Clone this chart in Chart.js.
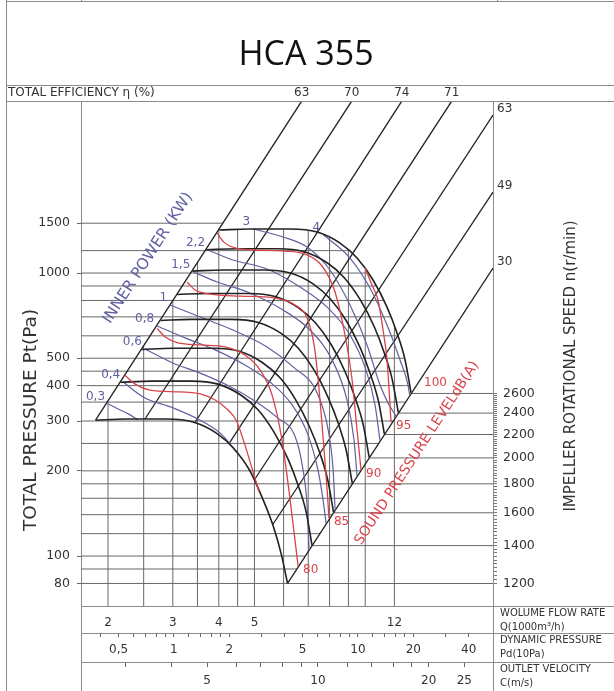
<!DOCTYPE html>
<html>
<head>
<meta charset="utf-8">
<title>HCA 355</title>
<script src="https://cdn.jsdelivr.net/npm/chart.js@4.4.1/dist/chart.umd.min.js"></script>
<style>
  html, body { margin: 0; padding: 0; background: #fff; }
  canvas { display: block; }
</style>
</head>
<body>
<canvas id="fanChart" width="614" height="691"></canvas>
<script>
// HCA 355 fan sheet - flow Q in 1000 m3/h, total pressure Pt in Pa

var pressureTicks = [80, 100, 200, 300, 400, 500, 1000, 1500];
var pressureGrid = [80, 90, 100, 120, 140, 160, 180, 200, 250, 300, 350, 400, 450, 500, 600, 700, 800, 900, 1000, 1200, 1500];
var flowGrid = [2, 2.5, 3, 3.5, 4, 4.5, 5, 6, 7, 8, 9, 10, 12];
var flowLabels = [2, 3, 4, 5, 12];
var dynTicks = [0.4, 0.5, 0.6, 0.7, 0.8, 0.9, 1, 1.2, 1.4, 1.6, 1.8, 2, 3, 4, 5, 6, 7, 8, 9, 10, 12, 14, 16, 18, 20, 30, 40];
var dynLabels = [0.5, 1, 2, 5, 10, 20, 40];
var velTicks = [3, 4, 5, 6, 7, 8, 9, 10, 12, 14, 16, 18, 20, 25];
var velLabels = [5, 10, 20, 25];
var rpmLabels = [1200, 1400, 1600, 1800, 2000, 2200, 2400, 2600];

// axis ranges (the three bottom scales line up with the flow scale)
var flowRange = [1.689, 22.24];
var pressureRange = [66.6, 4054];
var rpmRange = [1095, 8545];
var dynRange = [0.3126, 54.2];
var velRange = [2.2715, 29.91];

// fan curves, one per impeller speed
var speeds = [1200, 1400, 1600, 1800, 2000, 2200, 2400, 2600];
var fanQ = [
  [1.85, 2.24, 2.88, 3.42, 3.94, 4.38, 4.85, 5.29, 5.63, 5.92, 6.15],
  [2.16, 2.62, 3.37, 3.98, 4.60, 5.12, 5.65, 6.17, 6.57, 6.91, 7.17],
  [2.47, 2.99, 3.85, 4.55, 5.25, 5.85, 6.46, 7.05, 7.51, 7.90, 8.20],
  [2.78, 3.36, 4.33, 5.12, 5.91, 6.58, 7.27, 7.93, 8.45, 8.88, 9.22],
  [3.08, 3.74, 4.81, 5.69, 6.57, 7.31, 8.08, 8.81, 9.38, 9.87, 10.25],
  [3.39, 4.11, 5.29, 6.26, 7.23, 8.04, 8.89, 9.70, 10.32, 10.86, 11.27],
  [3.70, 4.49, 5.77, 6.83, 7.88, 8.77, 9.69, 10.58, 11.26, 11.84, 12.30],
  [4.01, 4.86, 6.25, 7.40, 8.54, 9.50, 10.50, 11.46, 12.20, 12.83, 13.32]
];
var fanP = [
  [302, 305, 305, 297, 272, 241, 201, 157, 127, 101, 80],
  [411, 415, 415, 405, 370, 328, 274, 220, 178, 143, 109],
  [537, 542, 542, 529, 483, 428, 358, 287, 233, 187, 143],
  [680, 686, 686, 669, 612, 542, 453, 363, 294, 236, 181],
  [840, 847, 847, 826, 755, 669, 559, 449, 363, 292, 223],
  [1016, 1025, 1025, 1000, 914, 809, 677, 543, 440, 353, 270],
  [1209, 1219, 1219, 1190, 1087, 963, 805, 646, 523, 420, 321],
  [1419, 1431, 1431, 1396, 1276, 1130, 945, 758, 614, 493, 377]
];

// inner power (kW)
var powerNames = ['0,3', '0,4', '0,6', '0,8', '1', '1,5', '2,2', '3', '4'];
var powerQ = [
  [2.00, 2.13, 2.27, 2.41],
  [2.20, 2.49, 3.00, 3.56, 4.03, 4.48],
  [2.52, 3.00, 3.56, 4.21, 4.96, 5.76, 6.45, 6.74, 6.95, 7.04],
  [2.72, 3.24, 3.91, 4.71, 5.51, 6.33, 6.99, 7.44, 7.68, 7.83],
  [2.95, 3.56, 4.37, 5.41, 6.37, 7.40, 7.93, 8.18, 8.28],
  [3.41, 3.96, 4.86, 5.98, 7.08, 8.13, 8.92, 9.32, 9.50],
  [3.74, 4.37, 5.41, 6.65, 7.93, 9.09, 10.05, 10.63, 10.97],
  [4.96, 5.98, 6.95, 8.02, 9.09, 10.11, 10.97, 11.54, 12.13],
  [7.68, 9.09, 10.30, 11.46, 12.43, 13.07, 13.20]
];
var powerP = [
  [345, 331, 318, 303],
  [412, 365, 334, 302, 272, 233],
  [539, 481, 443, 402, 356, 309, 264, 210, 151, 105],
  [650, 590, 535, 473, 412, 342, 268, 201, 158, 130],
  [771, 699, 629, 548, 466, 377, 279, 201, 146],
  [1009, 930, 850, 740, 629, 493, 356, 257, 192],
  [1206, 1112, 1033, 892, 752, 604, 454, 342, 255],
  [1431, 1341, 1235, 1025, 771, 557, 402, 347, 312],
  [1368, 1130, 885, 655, 493, 402, 371]
];

// sound pressure level dB(A); the lowest curve carries no number
var soundNames = ['', '80', '85', '90', '95'];
var soundTop = '100';
var soundQ = [
  [2.22, 2.37, 2.60, 3.14, 3.56, 3.91, 4.24, 4.46, 4.71, 4.93, 5.15],
  [2.72, 2.86, 3.10, 3.56, 4.16, 4.71, 5.18, 5.58, 5.94, 6.25, 6.57],
  [3.28, 3.45, 3.79, 4.57, 5.69, 6.45, 6.95, 7.26, 7.45, 7.69, 7.88, 7.97],
  [3.96, 4.13, 4.43, 5.02, 6.06, 6.86, 7.63, 8.28, 8.81, 9.21, 9.50, 9.74],
  [9.99, 10.43, 10.83, 11.18, 11.46, 11.61, 11.75]
];
var soundP = [
  [436, 405, 386, 380, 374, 356, 328, 302, 247, 203, 168],
  [637, 594, 566, 557, 548, 513, 454, 371, 257, 158, 92],
  [930, 871, 843, 829, 816, 771, 693, 557, 419, 257, 171, 136],
  [1384, 1286, 1226, 1206, 1196, 1167, 1059, 857, 604, 419, 279, 201],
  [1041, 907, 803, 629, 493, 386, 297]
];

// total efficiency lines (%)
var effNames = ['63', '70', '74', '71', '63', '49', '30'];
var effQ = [[1.85, 6.72], [2.52, 9.19], [3.45, 12.57], [4.26, 17.18], [5.0, 22.24], [5.6, 22.24], [6.15, 22.24]];
var effP = [[302, 4053], [305, 4053], [297, 4053], [249, 4053], [186, 3616], [129, 1933], [80, 1041]];

var powerTitleAt = [2.57, 1130];
var soundTitleAt = [13.83, 231];

var font = 'DejaVu Sans';
var gridColor = '#686868';
var frameColor = '#8c8c8c';
var blue = '#5f5f9f';
var red = '#d8434a';
var ink = '#222222';

Chart.defaults.font.family = font;
Chart.defaults.color = '#333';

// straight line between two points on log-log axes
function logInterp(v, v0, v1, w0, w1) {
  var t = (Math.log(v) - Math.log(v0)) / (Math.log(v1) - Math.log(v0));
  return Math.exp(Math.log(w0) + t * (Math.log(w1) - Math.log(w0)));
}

var topQ = fanQ[fanQ.length - 1], topP = fanP[fanP.length - 1];

// where a pressure line meets the outline (left diagonal, top curve, sound line)
function rightEdge(p) {
  if (p >= Math.max.apply(null, topP)) return logInterp(p, effP[0][0], effP[0][1], effQ[0][0], effQ[0][1]);
  if (p >= topP[topP.length - 1]) {
    for (var i = topP.length - 1; i > 0; i--) {
      if (topP[i - 1] >= p && topP[i] <= p) return logInterp(p, topP[i], topP[i - 1], topQ[i], topQ[i - 1]);
    }
  }
  return logInterp(p, effP[6][0], effP[6][1], effQ[6][0], effQ[6][1]);
}

// where a flow line meets the outline from below
function topEdge(q) {
  if (q <= topQ[0]) return logInterp(q, effQ[0][0], effQ[0][1], effP[0][0], effP[0][1]);
  for (var i = 1; i < topQ.length; i++) {
    if (topQ[i] >= q) return logInterp(q, topQ[i - 1], topQ[i], topP[i - 1], topP[i]);
  }
  return logInterp(q, effQ[6][0], effQ[6][1], effP[6][0], effP[6][1]);
}

function series(qs, ps) {
  return qs.map(function (q, i) { return { x: q, y: ps[i] }; });
}

function lineSet(data, color, width, order, smooth, yAxis) {
  return {
    data: data,
    showLine: true,
    borderColor: color,
    borderWidth: width,
    pointRadius: 0,
    fill: false,
    order: order,
    tension: smooth ? 0.4 : 0,
    cubicInterpolationMode: smooth ? 'monotone' : 'default',
    yAxisID: yAxis || 'y'
  };
}

var hLines = [];
pressureGrid.forEach(function (p) {
  hLines.push({ x: flowRange[0], y: p }, { x: rightEdge(p), y: p }, { x: null, y: null });
});
var vLines = [];
flowGrid.forEach(function (q) {
  vLines.push({ x: q, y: pressureRange[0] }, { x: q, y: topEdge(q) }, { x: null, y: null });
});
var rpmLines = [];
speeds.forEach(function (n, i) {
  rpmLines.push({ x: fanQ[i][fanQ[i].length - 1], y: n }, { x: flowRange[1], y: n }, { x: null, y: null });
});

var datasets = [
  lineSet(hLines, gridColor, 1, 10, false),
  lineSet(vLines, gridColor, 1, 10, false),
  lineSet(rpmLines, gridColor, 1, 10, false, 'rpm')
];
effQ.forEach(function (qs, i) { datasets.push(lineSet(series(qs, effP[i]), ink, 1.3, 6, false)); });
powerQ.forEach(function (qs, i) { datasets.push(lineSet(series(qs, powerP[i]), blue, 1.2, 5, true)); });
fanQ.forEach(function (qs, i) { datasets.push(lineSet(series(qs, fanP[i]), ink, 1.6, 4, true)); });
soundQ.forEach(function (qs, i) { datasets.push(lineSet(series(qs, soundP[i]), red, 1.3, 3, true)); });

function fixedTicks(values) {
  return function (scale) { scale.ticks = values.map(function (v) { return { value: v }; }); };
}

var rpmTicks = [];
for (var n = 1200; n <= 2600; n += 20) rpmTicks.push(n);

function bottomAxis(range, ticks, labels, weight, height, tickLen, pad, fmt) {
  return {
    type: 'logarithmic',
    position: 'bottom',
    bounds: 'data',
    min: range[0],
    max: range[1],
    weight: weight,
    afterBuildTicks: fixedTicks(ticks),
    afterFit: function (s) { s.height = height; },
    border: { display: true, color: frameColor },
    grid: { drawOnChartArea: false, drawTicks: tickLen > 0, tickLength: tickLen, color: '#666' },
    ticks: {
      autoSkip: false, maxRotation: 0, minRotation: 0, padding: pad,
      font: { size: 12 }, color: '#333',
      callback: function (v) { return labels.indexOf(v) >= 0 ? (fmt ? fmt(v) : String(v)) : ''; }
    }
  };
}

var sheetPlugin = {
  id: 'sheet',
  beforeDraw: function (chart) {
    var c = chart.ctx;
    c.save();
    c.fillStyle = '#fff';
    c.fillRect(0, 0, chart.width, chart.height);
    c.restore();
  },
  afterDraw: function (chart) {
    var c = chart.ctx, a = chart.chartArea, W = chart.width, H = chart.height;
    var sx = chart.scales.x, sy = chart.scales.y;
    function line(x1, y1, x2, y2) { c.beginPath(); c.moveTo(x1, y1); c.lineTo(x2, y2); c.stroke(); }
    c.save();
    c.strokeStyle = frameColor;
    c.lineWidth = 1;
    line(6.5, 0, 6.5, H);
    line(6, 1.5, W, 1.5);
    line(a.left + 0.5, 0, a.left + 0.5, 2);
    line(497.5, 0, 497.5, 2);
    line(6, 85.5, W, 85.5);
    line(6, a.top + 0.5, W, a.top + 0.5);
    line(a.left + 0.5, a.bottom, a.left + 0.5, H);
    line(a.right + 0.5, a.bottom, a.right + 0.5, H);
    [a.bottom, chart.scales.pd.top, chart.scales.vel.top].forEach(function (y) {
      line(a.right, Math.round(y) + 0.5, W, Math.round(y) + 0.5);
    });

    c.fillStyle = '#111';
    c.textAlign = 'center';
    c.textBaseline = 'middle';
    c.font = '34px "Liberation Sans Narrow", "Open Sans", sans-serif';
    c.fillText('HCA 355', 306, 55);

    c.fillStyle = '#333';
    c.font = '12px "' + font + '"';
    c.textAlign = 'left';
    c.fillText('TOTAL EFFICIENCY \u03b7 (%)', 8, 93);

    // efficiency numbers: top row for lines leaving at the top, right of axis for the others
    effNames.forEach(function (name, i) {
      var q = effQ[i][1], p = effP[i][1];
      if (p >= pressureRange[1] - 1) {
        c.textAlign = 'center';
        c.fillText(name, sx.getPixelForValue(q), 93);
      } else {
        c.textAlign = 'left';
        c.fillText(name, a.right + 4, sy.getPixelForValue(p) - 6);
      }
    });

    c.font = '10px "' + font + '"';
    c.textAlign = 'left';
    var rows = [
      ['WOLUME FLOW RATE', 'Q(1000m\u00b3/h)', a.bottom],
      ['DYNAMIC PRESSURE', 'Pd(10Pa)', chart.scales.pd.top],
      ['OUTLET VELOCITY', 'C(m/s)', chart.scales.vel.top]
    ];
    rows.forEach(function (r) {
      c.fillText(r[0], a.right + 7, r[2] + 7);
      c.fillText(r[1], a.right + 7, r[2] + 21);
    });

    c.font = '18.5px "' + font + '"';
    c.textAlign = 'center';
    c.save();
    c.translate(31, 420);
    c.rotate(-Math.PI / 2);
    c.fillText('TOTAL PRESSURE Pt(Pa)', 0, 0);
    c.restore();

    c.font = '15px "' + font + '"';
    c.save();
    c.translate(571, 366);
    c.rotate(-Math.PI / 2);
    c.fillText('IMPELLER ROTATIONAL SPEED n(r/min)', 0, 0);
    c.restore();
    c.restore();
  },
  afterDatasetsDraw: function (chart) {
    var c = chart.ctx, sx = chart.scales.x, sy = chart.scales.y;
    function pt(q, p) { return [sx.getPixelForValue(q), sy.getPixelForValue(p)]; }
    c.save();
    c.font = '12px "' + font + '"';

    c.fillStyle = blue;
    c.textAlign = 'right';
    c.textBaseline = 'bottom';
    powerNames.forEach(function (name, i) {
      var s = pt(powerQ[i][0], powerP[i][0]);
      c.fillText(name, s[0] - 3, s[1] - 1);
    });

    c.fillStyle = red;
    c.textAlign = 'left';
    c.textBaseline = 'middle';
    soundNames.forEach(function (name, i) {
      if (!name) return;
      var k = soundQ[i].length - 1;
      var e = pt(soundQ[i][k], soundP[i][k]);
      c.fillText(name, e[0] + 5, e[1] + 4);
    });
    var t = pt(topQ[topQ.length - 1], topP[topP.length - 1]);
    c.fillText(soundTop, t[0] + 13, t[1] - 10);

    function along(text, at, k, color, size) {
      var p0 = pt(effQ[k][0], effP[k][0]), p1 = pt(effQ[k][1], effP[k][1]);
      var ang = Math.atan2(p1[1] - p0[1], p1[0] - p0[0]);
      var m = pt(at[0], at[1]);
      c.save();
      c.translate(m[0], m[1]);
      c.rotate(ang);
      c.fillStyle = color;
      c.font = size + 'px "' + font + '"';
      c.textAlign = 'center';
      c.textBaseline = 'middle';
      c.fillText(text, 0, 0);
      c.restore();
    }
    along('INNER POWER (KW)', powerTitleAt, 0, blue, 15.5);
    along('SOUND PRESSURE LEVELdB(A)', soundTitleAt, 6, red, 14);
    c.restore();
  }
};

var ctx = document.getElementById('fanChart').getContext('2d');
var fanChart = new Chart(ctx, {
  type: 'scatter',
  data: { datasets: datasets },
  options: {
    responsive: false,
    animation: false,
    devicePixelRatio: 1,
    layout: { padding: { top: 101, left: 0, right: 0, bottom: 0 } },
    plugins: { legend: { display: false }, tooltip: { enabled: false } },
    scales: {
      x: bottomAxis(flowRange, flowLabels, flowLabels, 0, 27, 0, 10),
      pd: bottomAxis(dynRange, dynTicks, dynLabels, 1, 29, 4, 6, function (v) { return String(v).replace('.', ','); }),
      vel: bottomAxis(velRange, velTicks, velLabels, 2, 29, 5, 7),
      y: {
        type: 'logarithmic',
        position: 'left',
        bounds: 'data',
        min: pressureRange[0],
        max: pressureRange[1],
        afterBuildTicks: fixedTicks(pressureTicks),
        afterFit: function (s) { s.width = 81; },
        border: { display: true, color: frameColor },
        grid: { drawOnChartArea: false, tickLength: 4, color: '#666' },
        ticks: { autoSkip: false, padding: 7, font: { size: 12.5 }, color: '#333',
          callback: function (v) { return String(v); } }
      },
      rpm: {
        type: 'logarithmic',
        position: 'right',
        bounds: 'data',
        min: rpmRange[0],
        max: rpmRange[1],
        afterBuildTicks: fixedTicks(rpmTicks),
        afterFit: function (s) { s.width = 121; },
        border: { display: true, color: frameColor },
        grid: { drawOnChartArea: false, tickLength: 4, color: '#777' },
        ticks: { autoSkip: false, padding: 6, font: { size: 12.5 }, color: '#333',
          callback: function (v) { return rpmLabels.indexOf(v) >= 0 ? String(v) : ''; } }
      }
    }
  },
  plugins: [sheetPlugin]
});
</script>
</body>
</html>
